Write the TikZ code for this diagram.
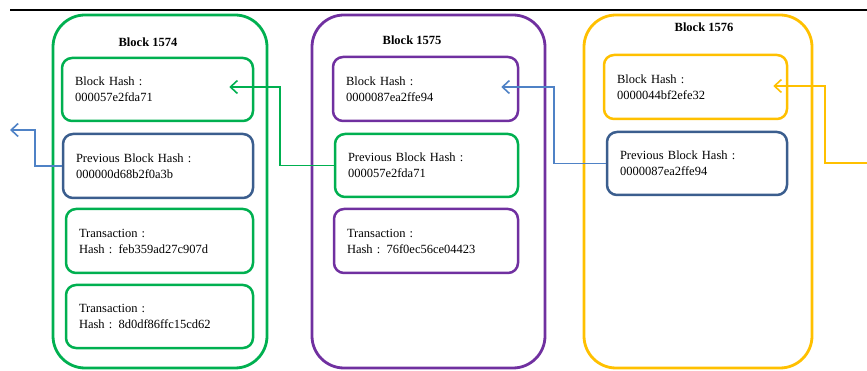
\documentclass[tikz,border=0pt]{standalone}
\usepackage{fontspec}
\setmainfont{Liberation Serif}
\usetikzlibrary{arrows.meta,calc}
\definecolor{chgreen}{HTML}{00B050}
\definecolor{chpurple}{HTML}{7030A0}
\definecolor{chyellow}{HTML}{FFC000}
\definecolor{chnavy}{HTML}{3B5E8E}
\definecolor{chlink}{HTML}{4F82C6}
\begin{document}
\begin{tikzpicture}[x=1pt,y=-1pt,
  font=\fontsize{12.5}{16}\selectfont,
  block/.style={draw=#1, line width=2.8pt, rounded corners=32pt},
  title/.style={font=\fontsize{12.5}{16}\selectfont\bfseries},
  field/.style={draw=#1, line width=2.5pt, rounded corners=10pt,
    align=left, inner xsep=13pt, inner ysep=0pt},
  link/.style={draw=#1, line width=1.6pt,
    -{Straight Barb[length=7pt,width=13pt,line width=1.6pt]}}]
\useasboundingbox (0,0) rectangle (867,371);

% rule across the top
\draw[line width=2pt] (10,10) -- (867,10);

% outer block frames
\node[block=chgreen,  minimum width=214pt, minimum height=353pt] (b1574) at (160,191.5) {};
\node[block=chpurple, minimum width=233pt, minimum height=353pt] (b1575) at (428.5,191.5) {};
\node[block=chyellow, minimum width=228pt, minimum height=353pt] (b1576) at (698,191.5) {};

% block titles
\node[title] (n1574) at (148,42) {Block 1574};
\node[title] (n1575) at (412,40) {Block 1575};
\node[title] (n1576) at (704,27) {Block 1576};

% Block 1574
\node[field=chgreen, minimum width=191pt, minimum height=63pt, text width=165pt] (h1574) at (157.5,89.5)
  {Block Hash :\\000057e2fda71};
\node[field=chnavy, minimum width=190pt, minimum height=64pt, text width=164pt] (p1574) at (158,166)
  {Previous Block Hash :\\000000d68b2f0a3b};
\node[field=chgreen, minimum width=187pt, minimum height=64pt, text width=161pt] (t1574a) at (159.5,241)
  {Transaction :\\Hash : feb359ad27c907d};
\node[field=chgreen, minimum width=187pt, minimum height=63pt, text width=161pt] (t1574b) at (159.5,316.5)
  {Transaction :\\Hash : 8d0df86ffc15cd62};

% Block 1575
\node[field=chpurple, minimum width=185pt, minimum height=64pt, text width=159pt] (h1575) at (425.5,89)
  {Block Hash :\\0000087ea2ffe94};
\node[field=chgreen, minimum width=183pt, minimum height=63pt, text width=157pt] (p1575) at (426.5,165.5)
  {Previous Block Hash :\\000057e2fda71};
\node[field=chpurple, minimum width=184pt, minimum height=64pt, text width=158pt] (t1575) at (426,241)
  {Transaction :\\Hash : 76f0ec56ce04423};

% Block 1576
\node[field=chyellow, minimum width=183pt, minimum height=64pt, text width=157pt] (h1576) at (695.5,87)
  {Block Hash :\\0000044bf2efe32};
\node[field=chnavy, minimum width=180pt, minimum height=63pt, text width=154pt] (p1576) at (697,163.5)
  {Previous Block Hash :\\0000087ea2ffe94};

% loose ends of the chain
\coordinate (prevOut) at (10,130);
\coordinate (nextIn) at (867,163);

% hash links
\draw[link=chlink] (p1574.west) -- ++(-27,0) |- (prevOut);
\draw[link=chgreen] (p1575.west) -- ++(-54,0) |- ($(h1574.east)+(-25,-2.5)$);
\draw[link=chlink] (p1576.west) -- ++(-52,0) |- ($(h1575.east)+(-18,-2)$);
\draw[link=chyellow] (nextIn) -- ++(-42,0) |- ($(h1576.east)+(-15,-1)$);
\end{tikzpicture}
\end{document}
